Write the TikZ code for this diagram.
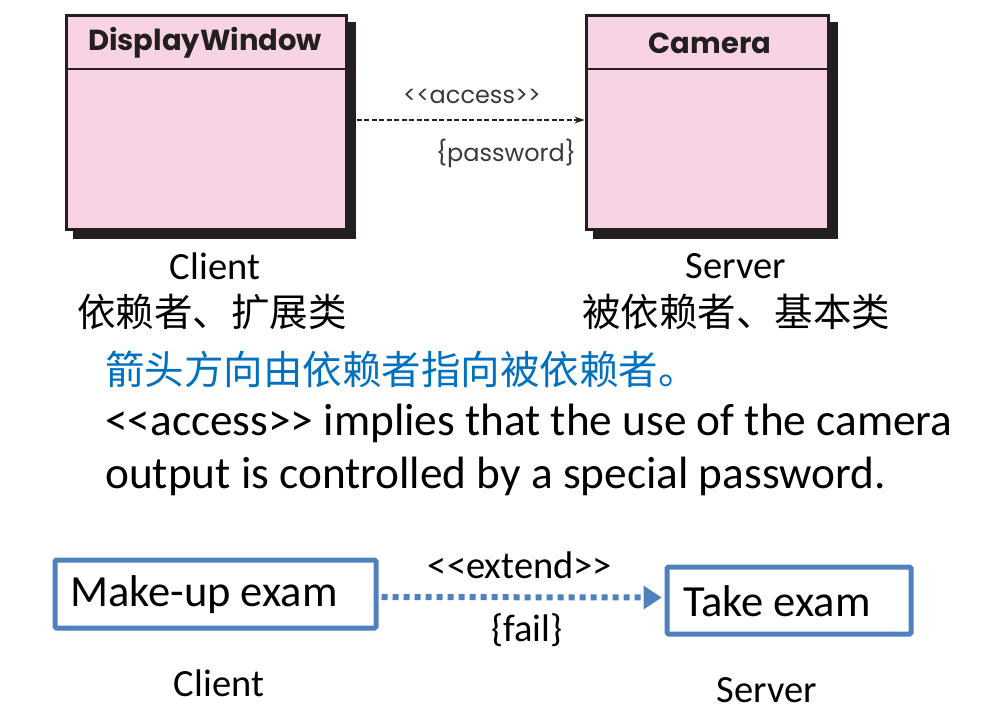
\documentclass[tikz,border=0pt]{standalone}
\usepackage{fontspec}
\setmainfont{Carlito}[Ligatures=TeXOff]
\newfontfamily\cjk{Noto Sans CJK SC}[Ligatures=TeXOff]
\newfontfamily\geo{Poppins}[Ligatures=TeXOff]
\usetikzlibrary{arrows.meta,shadows,calc}
\definecolor{pinkc}{RGB}{248,211,228}
\definecolor{shadc}{RGB}{35,31,32}
\definecolor{bluec}{RGB}{79,129,189}
\definecolor{txtblue}{RGB}{0,112,192}
\definecolor{lblc}{RGB}{60,55,60}
\tikzset{
  umlbox/.style={draw=shadc, line width=3pt, fill=pinkc, inner sep=0pt,
    copy shadow={shadow xshift=8pt, shadow yshift=-8pt, fill=shadc, draw=shadc}},
  umltitle/.style={font=\geo\bfseries\fontsize{29}{32}\selectfont, text=shadc},
  umllbl/.style={font=\geo\fontsize{24}{28}\selectfont, text=lblc},
  capt/.style={font=\fontsize{38.5}{44}\selectfont},
  cjkcapt/.style={font=\cjk\fontsize{38.5}{44}\selectfont},
  usebox/.style={draw=bluec, line width=5pt, rounded corners=1.5pt, inner sep=0pt},
  usetext/.style={font=\fontsize{44.5}{50}\selectfont},
}
\begin{document}
\begin{tikzpicture}[x=1pt,y=-1pt]
\useasboundingbox (0,0) rectangle (991,716);
% UML boxes
\node[umlbox, minimum width=280pt, minimum height=214pt] (dw) at (206,122) {};
\node[umlbox, minimum width=242pt, minimum height=214pt] (cam) at (707,122) {};
\draw[draw=shadc, line width=2pt] ($(dw.north west)+(0,55)$) coordinate (dwl) -- (dwl -| dw.east);
\draw[draw=shadc, line width=2pt] ($(cam.north west)+(0,55)$) coordinate (caml) -- (caml -| cam.east);
\node[umltitle] (dwt) at (205,43) {DisplayWindow};
\node[umltitle] (camt) at (710,43) {Camera};
% access dependency
\coordinate (as) at ($(dw.east)+(9,-2)$);
\coordinate (ae) at ($(cam.west)+(0,-2)$);
\draw[shadc, line width=1.4pt, dash pattern=on 5pt off 2.5pt, -{Stealth[length=10pt,width=7pt]}] (as) -- (ae);
\node[umllbl] (acc) at (472,96) {<<access>>};
\node[umllbl] (pw) at (506,153) {\{password\}};
% captions
\node[capt] (cl1) at (215,266) {Client};
\node[cjkcapt] (cl2) at (212,312) {依赖者、扩展类};
\node[capt] (sv1) at (736,266) {Server};
\node[cjkcapt] (sv2) at (736,312) {被依赖者、基本类};
\node[cjkcapt, font=\cjk\fontsize{39.5}{44}\selectfont, text=txtblue, anchor=west, inner sep=0pt] (note) at (105,369) {箭头方向由依赖者指向被依赖者。};
\node[font=\fontsize{45.3}{53}\selectfont, anchor=north west, align=left, inner sep=0pt] (expl) at (105,404)
  {<<access>> implies that the use of the camera\\output is controlled by a special password.};
% use case part
\node[usebox, minimum width=321pt, minimum height=68pt] (mk) at (215.5,594) {};
\node[usetext, anchor=west, inner sep=0pt] (mkt) at (70,595) {Make-up exam};
\node[usebox, minimum width=244pt, minimum height=67pt] (tk) at (789,600.5) {};
\node[usetext, anchor=west, inner sep=0pt] (tkt) at (683,601) {Take exam};
\draw[bluec, line width=6pt, dash pattern=on 6pt off 5pt, shorten >=14pt] ($(mk.east)+(3,3)$) coordinate (es) -- ($(tk.west)+(-3,-3)$) coordinate (ee);
\fill[bluec] ($(ee)+(-18,-12)$) -- (ee) -- ($(ee)+(-18,12)$) -- cycle;
\node[capt] (ext) at (520,565) {<<extend>>};
\node[capt] (fail) at (527,630) {\{fail\}};
\node[capt] (cl3) at (219,683) {Client};
\node[capt] (sv3) at (767,690) {Server};
\end{tikzpicture}
\end{document}
